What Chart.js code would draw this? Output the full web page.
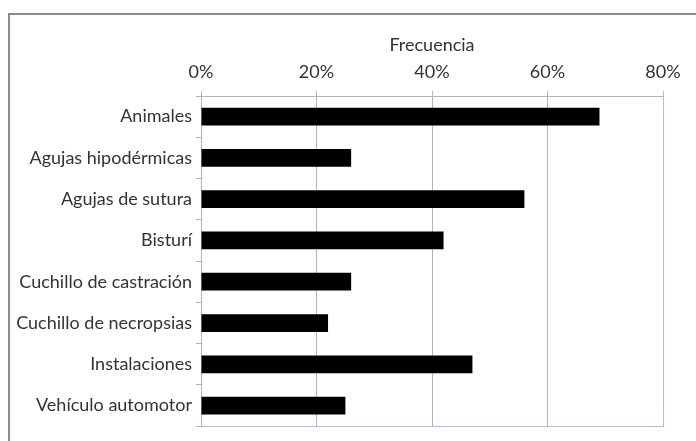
<!DOCTYPE html>
<html>
<head>
<meta charset="utf-8">
<script src="https://cdn.jsdelivr.net/npm/chart.js@4"></script>
<style>
  html, body { margin: 0; padding: 0; background: #fff; }
  #wrap { position: relative; width: 696px; height: 441px; overflow: hidden; }
  #frame {
    position: absolute; left: 8px; top: 13px; width: 700px; height: 440px;
    border-left: 2px solid #8c8c8c; border-top: 2px solid #8c8c8c;
  }
  canvas { position: absolute; left: 0; top: 0; }
</style>
</head>
<body>
<div id="wrap">
  <div id="frame"></div>
  <canvas id="chart" width="696" height="441"></canvas>
</div>
<script>
// Data
const categories = [
  'Animales',
  'Agujas hipodérmicas',
  'Agujas de sutura',
  'Bisturí',
  'Cuchillo de castración',
  'Cuchillo de necropsias',
  'Instalaciones',
  'Vehículo automotor',
];
const frecuencia = [69, 26, 56, 42, 26, 22, 47, 25];
const xTicks = [0, 20, 40, 60, 80];
const axisTitle = 'Frecuencia';

const theme = {
  bar: '#000000',
  grid: '#b4b4b4',
  edge: '#a9c0dc',
  text: '#333333',
  font: "Lato, 'Open Sans', sans-serif",
  size: 18,
};

new Chart(document.getElementById('chart'), {
  type: 'bar',
  data: {
    labels: categories,
    datasets: [{
      label: axisTitle,
      data: frecuencia,
      backgroundColor: theme.bar,
      borderWidth: 0,
      barPercentage: 0.43,
      categoryPercentage: 1,
    }],
  },
  options: {
    indexAxis: 'y',
    responsive: false,
    animation: false,
    layout: { padding: { left: 0, top: 18, right: 33, bottom: 11 } },
    plugins: { legend: { display: false }, tooltip: { enabled: false } },
    scales: {
      x: {
        position: 'top',
        min: xTicks[0],
        max: xTicks[xTicks.length - 1],
        afterBuildTicks: (scale) => { scale.ticks = xTicks.map(v => ({ value: v })); },
        afterFit: (scale) => { scale.height = 96 - 18; },
        ticks: {
          color: theme.text,
          font: { family: theme.font, size: theme.size },
          padding: 8,
          callback: (v) => v + '%',
        },
        grid: {
          color: (ctx) => (ctx.tick && ctx.tick.value === 80 ? theme.edge : theme.grid),
          lineWidth: 1,
          tickLength: 5,
        },
        border: { color: theme.grid },
        title: {
          display: true,
          text: axisTitle,
          color: theme.text,
          font: { family: theme.font, size: theme.size },
          padding: { top: 16, bottom: 0 },
        },
      },
      x2: {
        position: 'bottom',
        min: 0,
        max: 80,
        afterFit: (scale) => { scale.height = 0; },
        ticks: { display: false },
        grid: { display: false },
        border: { display: true, color: theme.edge, width: 1 },
      },
      y: {
        afterFit: (scale) => { scale.width = 201; },
        ticks: {
          color: theme.text,
          font: { family: theme.font, size: theme.size },
          padding: 4,
        },
        grid: {
          drawOnChartArea: false,
          color: theme.grid,
          tickLength: 5,
        },
        border: { color: theme.grid },
      },
    },
  },
});
</script>
</body>
</html>
